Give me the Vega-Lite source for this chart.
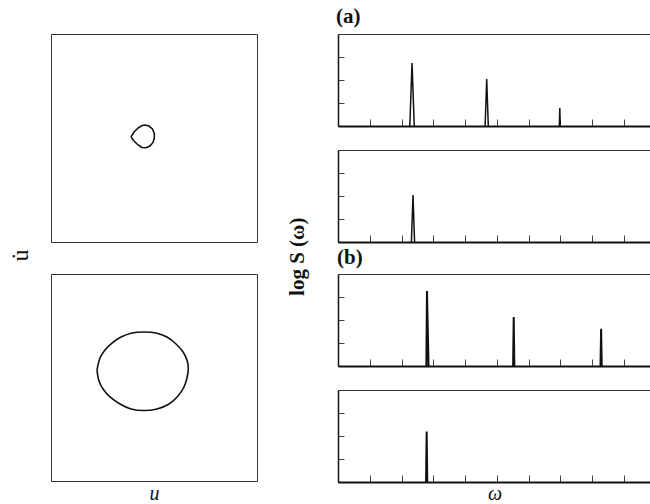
{
  "$schema": "https://vega.github.io/schema/vega-lite/v6.json",
  "padding": {"left": 8, "top": 5, "right": 0, "bottom": 0},
  "background": "white",
  "config": {
    "font": "Liberation Serif",
    "view": {"stroke": "#333", "strokeWidth": 1},
    "axis": {"titleFont": "Liberation Serif", "labelFont": "Liberation Serif", "grid": false},
    "title": {"font": "Liberation Serif", "color": "#111"}
  },
  "datasets": {
    "tear": [
      {"i": 0, "u": -2.23, "v": 0.10},
      {"i": 1, "u": -1.94, "v": 0.58},
      {"i": 2, "u": -1.55, "v": 0.96},
      {"i": 3, "u": -1.21, "v": 1.18},
      {"i": 4, "u": -0.87, "v": 1.25},
      {"i": 5, "u": -0.49, "v": 1.15},
      {"i": 6, "u": -0.15, "v": 0.87},
      {"i": 7, "u": 0.03, "v": 0.43},
      {"i": 8, "u": 0.03, "v": -0.03},
      {"i": 9, "u": -0.10, "v": -0.43},
      {"i": 10, "u": -0.39, "v": -0.77},
      {"i": 11, "u": -0.78, "v": -0.94},
      {"i": 12, "u": -1.17, "v": -0.91},
      {"i": 13, "u": -1.55, "v": -0.67},
      {"i": 14, "u": -1.94, "v": -0.29},
      {"i": 15, "u": -2.23, "v": 0.10}
    ],
    "loop": [
      {"i": 0, "u": -5.53, "v": 0.72},
      {"i": 1, "u": -5.24, "v": 1.88},
      {"i": 2, "u": -4.76, "v": 2.66},
      {"i": 3, "u": -4.08, "v": 3.33},
      {"i": 4, "u": -3.20, "v": 3.91},
      {"i": 5, "u": -2.14, "v": 4.30},
      {"i": 6, "u": -0.97, "v": 4.40},
      {"i": 7, "u": 0.19, "v": 4.30},
      {"i": 8, "u": 1.26, "v": 3.91},
      {"i": 9, "u": 2.14, "v": 3.24},
      {"i": 10, "u": 2.82, "v": 2.46},
      {"i": 11, "u": 3.20, "v": 1.69},
      {"i": 12, "u": 3.33, "v": 0.92},
      {"i": 13, "u": 3.20, "v": -0.05},
      {"i": 14, "u": 2.91, "v": -0.92},
      {"i": 15, "u": 2.33, "v": -1.79},
      {"i": 16, "u": 1.46, "v": -2.56},
      {"i": 17, "u": 0.29, "v": -3.04},
      {"i": 18, "u": -0.97, "v": -3.19},
      {"i": 19, "u": -2.23, "v": -3.04},
      {"i": 20, "u": -3.30, "v": -2.56},
      {"i": 21, "u": -4.27, "v": -1.88},
      {"i": 22, "u": -4.95, "v": -1.11},
      {"i": 23, "u": -5.34, "v": -0.34},
      {"i": 24, "u": -5.53, "v": 0.72}
    ],
    "a1": [
      {"peak": 1, "w": 2.26, "s": 0}, {"peak": 1, "w": 2.33, "s": 2.74}, {"peak": 1, "w": 2.40, "s": 0},
      {"peak": 2, "w": 4.63, "s": 0}, {"peak": 2, "w": 4.68, "s": 2.04}, {"peak": 2, "w": 4.73, "s": 0},
      {"peak": 3, "w": 6.965, "s": 0}, {"peak": 3, "w": 6.98, "s": 0.78}, {"peak": 3, "w": 6.995, "s": 0}
    ],
    "a2": [
      {"peak": 1, "w": 2.31, "s": 0}, {"peak": 1, "w": 2.36, "s": 2.04}, {"peak": 1, "w": 2.41, "s": 0}
    ],
    "b1": [
      {"peak": 1, "w": 2.78, "s": 0}, {"peak": 1, "w": 2.80, "s": 3.26}, {"peak": 1, "w": 2.85, "s": 0},
      {"peak": 2, "w": 5.51, "s": 0}, {"peak": 2, "w": 5.53, "s": 2.13}, {"peak": 2, "w": 5.55, "s": 0},
      {"peak": 3, "w": 8.26, "s": 0}, {"peak": 3, "w": 8.28, "s": 1.62}, {"peak": 3, "w": 8.30, "s": 0}
    ],
    "b2": [
      {"peak": 1, "w": 2.77, "s": 0}, {"peak": 1, "w": 2.79, "s": 2.19}, {"peak": 1, "w": 2.81, "s": 0}
    ]
  },
  "hconcat": [
    {
      "title": {"text": "(a)", "color": "white", "anchor": "start", "fontSize": 21, "fontWeight": "bold", "offset": 6},
      "vconcat": [
        {
          "title": {"text": "u\u0307", "orient": "left", "anchor": "middle", "fontSize": 24, "fontWeight": "normal", "offset": 18, "dx": 13},
          "spacing": 30,
          "vconcat": [
            {
              "width": 206, "height": 208,
              "data": {"name": "tear"},
              "mark": {"type": "line", "color": "#111", "strokeWidth": 1.6},
              "encoding": {
                "x": {"field": "u", "type": "quantitative", "scale": {"domain": [-10, 10], "nice": false}, "axis": null},
                "y": {"field": "v", "type": "quantitative", "scale": {"domain": [-10, 10], "nice": false}, "axis": null},
                "order": {"field": "i"}
              }
            },
            {
              "width": 206, "height": 207,
              "data": {"name": "loop"},
              "mark": {"type": "line", "color": "#111", "strokeWidth": 1.6, "interpolate": "catmull-rom"},
              "encoding": {
                "x": {"field": "u", "type": "quantitative", "scale": {"domain": [-10, 10], "nice": false},
                      "axis": {"title": "u", "titleFontStyle": "italic", "titleFontWeight": "normal", "titleFontSize": 20, "domain": false, "ticks": false, "labels": false, "titlePadding": 2, "titleColor": "#111"}},
                "y": {"field": "v", "type": "quantitative", "scale": {"domain": [-10, 10], "nice": false}, "axis": null},
                "order": {"field": "i"}
              }
            }
          ]
        }
      ]
    },
    {
      "title": {"text": "(a)", "anchor": "start", "fontSize": 21, "fontWeight": "bold", "offset": 7, "dx": 49},
      "vconcat": [
        {
          "title": {"text": "log S (ω)", "orient": "left", "anchor": "middle", "fontSize": 21, "fontWeight": "bold", "offset": 29, "dx": 12},
          "spacing": 0,
          "vconcat": [
            {
              "spacing": 19,
              "vconcat": [
                {
                  "width": 313, "height": 92,
                  "data": {"name": "a1"},
                  "mark": {"type": "line", "color": "#111", "strokeWidth": 1.5},
                  "encoding": {
                    "x": {"field": "w", "type": "quantitative", "scale": {"domain": [0, 9.85], "nice": false, "zero": false},
                          "axis": {"values": [1, 2, 3, 4, 5, 6, 7, 8, 9], "labels": false, "tickSize": -7, "tickColor": "#444", "domainWidth": 2, "domainColor": "#111", "title": null}},
                    "y": {"field": "s", "type": "quantitative", "scale": {"domain": [0, 4], "nice": false},
                          "axis": {"values": [1, 2, 3], "labels": false, "tickSize": -6, "tickColor": "#444", "domainWidth": 1.5, "domainColor": "#111", "title": null}},
                    "detail": {"field": "peak"}
                  }
                },
                {
                  "width": 313, "height": 92,
                  "data": {"name": "a2"},
                  "mark": {"type": "line", "color": "#111", "strokeWidth": 1.5},
                  "encoding": {
                    "x": {"field": "w", "type": "quantitative", "scale": {"domain": [0, 9.85], "nice": false, "zero": false},
                          "axis": {"values": [1, 2, 3, 4, 5, 6, 7, 8, 9], "labels": false, "tickSize": -7, "tickColor": "#444", "domainWidth": 2, "domainColor": "#111", "title": null}},
                    "y": {"field": "s", "type": "quantitative", "scale": {"domain": [0, 4], "nice": false},
                          "axis": {"values": [1, 2, 3], "labels": false, "tickSize": -6, "tickColor": "#444", "domainWidth": 1.5, "domainColor": "#111", "title": null}},
                    "detail": {"field": "peak"}
                  }
                }
              ]
            },
            {
              "title": {"text": "(b)", "anchor": "start", "fontSize": 21, "fontWeight": "bold", "offset": 6},
              "spacing": 18,
              "vconcat": [
                {
                  "width": 313, "height": 92,
                  "data": {"name": "b1"},
                  "mark": {"type": "line", "color": "#111", "strokeWidth": 2},
                  "encoding": {
                    "x": {"field": "w", "type": "quantitative", "scale": {"domain": [0, 9.85], "nice": false, "zero": false},
                          "axis": {"values": [1, 2, 3, 4, 5, 6, 7, 8, 9], "labels": false, "tickSize": -7, "tickColor": "#444", "domainWidth": 2, "domainColor": "#111", "title": null}},
                    "y": {"field": "s", "type": "quantitative", "scale": {"domain": [0, 4], "nice": false},
                          "axis": {"values": [1, 2, 3], "labels": false, "tickSize": -6, "tickColor": "#444", "domainWidth": 1.5, "domainColor": "#111", "title": null}},
                    "detail": {"field": "peak"}
                  }
                },
                {
                  "width": 313, "height": 92,
                  "data": {"name": "b2"},
                  "mark": {"type": "line", "color": "#111", "strokeWidth": 2},
                  "encoding": {
                    "x": {"field": "w", "type": "quantitative", "scale": {"domain": [0, 9.85], "nice": false, "zero": false},
                          "axis": {"values": [1, 2, 3, 4, 5, 6, 7, 8, 9], "labels": false, "tickSize": -7, "tickColor": "#444", "domainWidth": 2, "domainColor": "#111",
                                   "title": "ω", "titleFontStyle": "italic", "titleFontWeight": "normal", "titleFontSize": 20, "titlePadding": 1, "titleColor": "#111"}},
                    "y": {"field": "s", "type": "quantitative", "scale": {"domain": [0, 4], "nice": false},
                          "axis": {"values": [1, 2, 3], "labels": false, "tickSize": -6, "tickColor": "#444", "domainWidth": 1.5, "domainColor": "#111", "title": null}},
                    "detail": {"field": "peak"}
                  }
                }
              ]
            }
          ]
        }
      ]
    }
  ],
  "spacing": 29
}
